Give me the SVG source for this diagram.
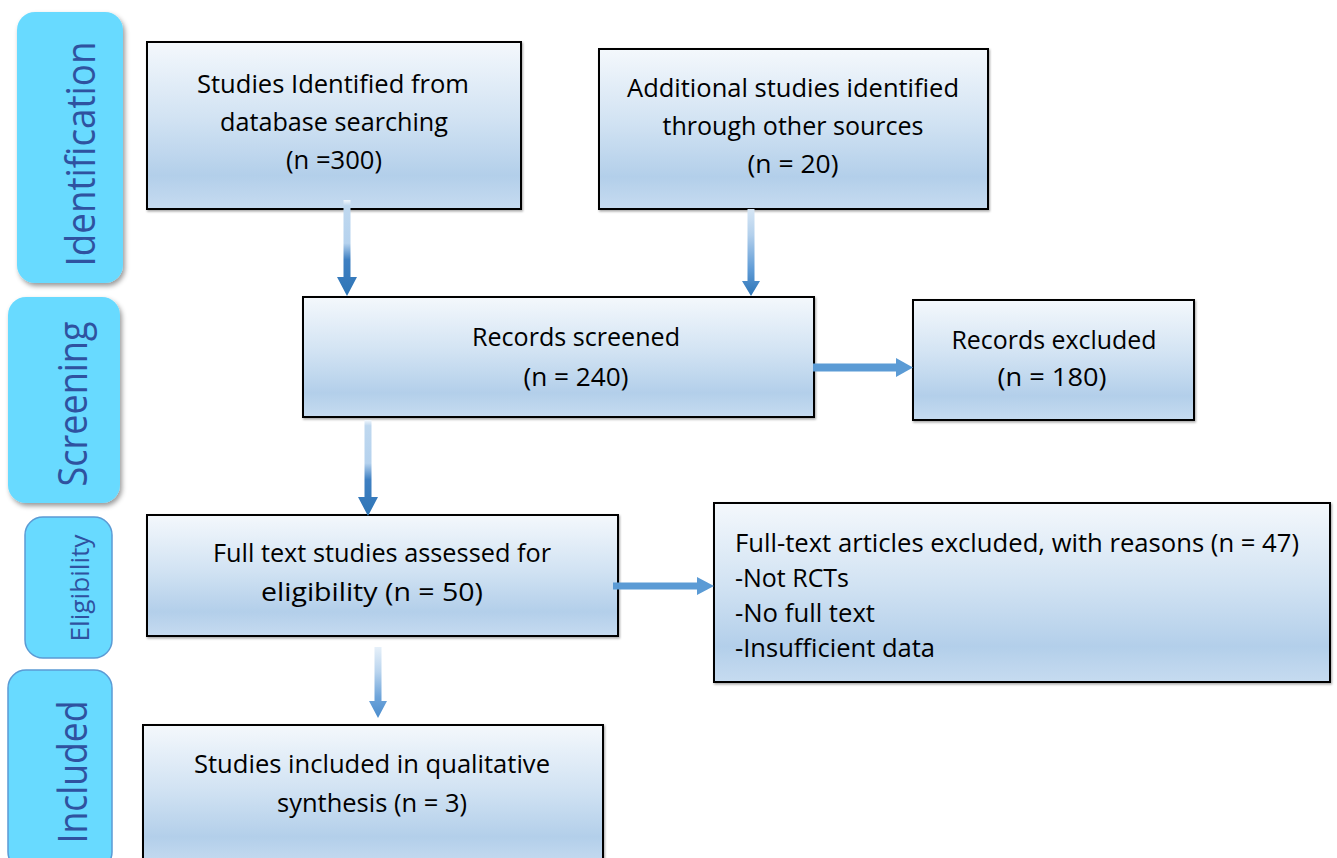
<svg xmlns="http://www.w3.org/2000/svg" width="1337" height="858" viewBox="0 0 1337 858">
<defs>
<linearGradient id="boxg" x1="0" y1="0" x2="0" y2="1">
<stop offset="0" stop-color="#F4F8FC"/>
<stop offset="0.45" stop-color="#D2E3F3"/>
<stop offset="0.8" stop-color="#B3CFEA"/>
<stop offset="1" stop-color="#C6DBF0"/>
</linearGradient>
<linearGradient id="arrg" x1="0" y1="0" x2="0" y2="1">
<stop offset="0" stop-color="#F2F7FC"/>
<stop offset="0.06" stop-color="#BFD8EF"/>
<stop offset="0.45" stop-color="#B5D2EE"/>
<stop offset="0.62" stop-color="#3F80C2"/>
<stop offset="1" stop-color="#2E75B6"/>
</linearGradient>
<linearGradient id="arrg2" x1="0" y1="0" x2="0" y2="1">
<stop offset="0" stop-color="#D6E6F5"/>
<stop offset="0.3" stop-color="#B3D0EC"/>
<stop offset="0.7" stop-color="#5F9BD6"/>
<stop offset="1" stop-color="#2E75B6"/>
</linearGradient>
<linearGradient id="arrg3" x1="0" y1="0" x2="0" y2="1">
<stop offset="0" stop-color="#E6F0F9"/>
<stop offset="0.35" stop-color="#B9D4EE"/>
<stop offset="0.7" stop-color="#6FA5DA"/>
<stop offset="1" stop-color="#4A8CCD"/>
</linearGradient>
<filter id="pshadow" x="-20%" y="-10%" width="150%" height="130%">
<feDropShadow dx="2" dy="3" stdDeviation="2.5" flood-color="#000" flood-opacity="0.4"/>
</filter>
<filter id="bshadow" x="-5%" y="-5%" width="110%" height="115%">
<feDropShadow dx="1" dy="1.5" stdDeviation="1" flood-color="#000" flood-opacity="0.35"/>
</filter>
</defs>
<style>
.pill{fill:#68DAFF;}
.pills{stroke:#5B9BD5;stroke-width:1.5;}
.lab{font-family:"Open Sans","Noto Sans",sans-serif;fill:#2F52A0;text-anchor:middle;}
.box{fill:url(#boxg);stroke:#000;stroke-width:2;}
.t{font-family:"Open Sans","Noto Sans",sans-serif;font-size:26px;fill:#000;text-anchor:middle;}
.tl{font-family:"Open Sans","Noto Sans",sans-serif;font-size:26px;fill:#000;}
.harr{fill:#5B9BD5;}
</style>
<rect width="1337" height="858" fill="#fff"/>

<g id="stage-identification">
<rect class="pill" x="17" y="12" width="106" height="271" rx="18" filter="url(#pshadow)"/>
<text class="lab" font-size="40" transform="translate(95,154) rotate(-90)" textLength="225" lengthAdjust="spacingAndGlyphs">Identification</text>
</g>
<g id="stage-screening">
<rect class="pill" x="8" y="297" width="112" height="206" rx="18" filter="url(#pshadow)"/>
<text class="lab" font-size="41" transform="translate(87,404) rotate(-90)" textLength="165" lengthAdjust="spacingAndGlyphs">Screening</text>
</g>
<g id="stage-eligibility">
<rect class="pill pills" x="25" y="517" width="87" height="141" rx="18"/>
<text class="lab" font-size="26" transform="translate(89,588) rotate(-90)" textLength="107" lengthAdjust="spacingAndGlyphs">Eligibility</text>
</g>
<g id="stage-included">
<rect class="pill pills" x="8" y="670" width="104" height="200" rx="18"/>
<text class="lab" font-size="40" transform="translate(87,772) rotate(-90)" textLength="143" lengthAdjust="spacingAndGlyphs">Included</text>
</g>

<g id="n-database">
<rect class="box" x="147" y="42" width="374" height="167" filter="url(#bshadow)"/>
<text class="t" x="333" y="93" textLength="272" lengthAdjust="spacingAndGlyphs">Studies Identified from</text>
<text class="t" x="334" y="131" textLength="228" lengthAdjust="spacingAndGlyphs">database searching</text>
<text class="t" x="334" y="169" textLength="96" lengthAdjust="spacingAndGlyphs">(n =300)</text>
</g>
<g id="n-other">
<rect class="box" x="599" y="49" width="389" height="160" filter="url(#bshadow)"/>
<text class="t" x="793" y="97" textLength="332" lengthAdjust="spacingAndGlyphs">Additional studies identified</text>
<text class="t" x="793" y="135" textLength="261" lengthAdjust="spacingAndGlyphs">through other sources</text>
<text class="t" x="793" y="173" textLength="91" lengthAdjust="spacingAndGlyphs">(n = 20)</text>
</g>
<g id="n-screened">
<rect class="box" x="303" y="297" width="511" height="120" filter="url(#bshadow)"/>
<text class="t" x="576" y="346" textLength="208" lengthAdjust="spacingAndGlyphs">Records screened</text>
<text class="t" x="576" y="386" textLength="105" lengthAdjust="spacingAndGlyphs">(n = 240)</text>
</g>
<g id="n-excluded">
<rect class="box" x="913" y="300" width="281" height="120" filter="url(#bshadow)"/>
<text class="t" x="1054" y="349" textLength="205" lengthAdjust="spacingAndGlyphs">Records excluded</text>
<text class="t" x="1052" y="386" textLength="109" lengthAdjust="spacingAndGlyphs">(n = 180)</text>
</g>
<g id="n-fulltext">
<rect class="box" x="147" y="515" width="471" height="121" filter="url(#bshadow)"/>
<text class="t" x="382" y="562" textLength="338" lengthAdjust="spacingAndGlyphs">Full text studies assessed for</text>
<text class="t" x="372" y="601" textLength="222" lengthAdjust="spacingAndGlyphs">eligibility (n = 50)</text>
</g>
<g id="n-ftexcluded">
<rect class="box" x="714" y="503" width="616" height="179" filter="url(#bshadow)"/>
<text class="tl" x="735" y="552" textLength="564" lengthAdjust="spacingAndGlyphs">Full-text articles excluded, with reasons (n = 47)</text>
<text class="tl" x="735" y="587" textLength="114" lengthAdjust="spacingAndGlyphs">-Not RCTs</text>
<text class="tl" x="735" y="622" textLength="140" lengthAdjust="spacingAndGlyphs">-No full text</text>
<text class="tl" x="735" y="657" textLength="200" lengthAdjust="spacingAndGlyphs">-Insufficient data</text>
</g>
<g id="n-included">
<rect class="box" x="143" y="725" width="460" height="140" filter="url(#bshadow)"/>
<text class="t" x="372" y="773" textLength="356" lengthAdjust="spacingAndGlyphs">Studies included in qualitative</text>
<text class="t" x="372" y="812" textLength="190" lengthAdjust="spacingAndGlyphs">synthesis (n = 3)</text>
</g>

<g id="connectors">
<path fill="url(#arrg)" d="M343.5,200 H350.5 V277 H357 L347,296 L337,277 H343.5 Z"/>
<path fill="url(#arrg2)" d="M747.5,209 H754.5 V281 H760 L751,296 L742,281 H747.5 Z"/>
<path fill="url(#arrg)" d="M364.5,420 H371.5 V497 H378 L368,516 L358,497 H364.5 Z"/>
<path fill="url(#arrg3)" d="M374.5,647 H381.5 V701 H387 L378,718 L369,701 H374.5 Z"/>
<path class="harr" d="M813,363.5 V371.5 H896 V377 L913,367.5 L896,358 V363.5 Z"/>
<path class="harr" d="M613,582.5 V589.5 H697 V595 L714,586 L697,577 V582.5 Z"/>
</g>
</svg>
